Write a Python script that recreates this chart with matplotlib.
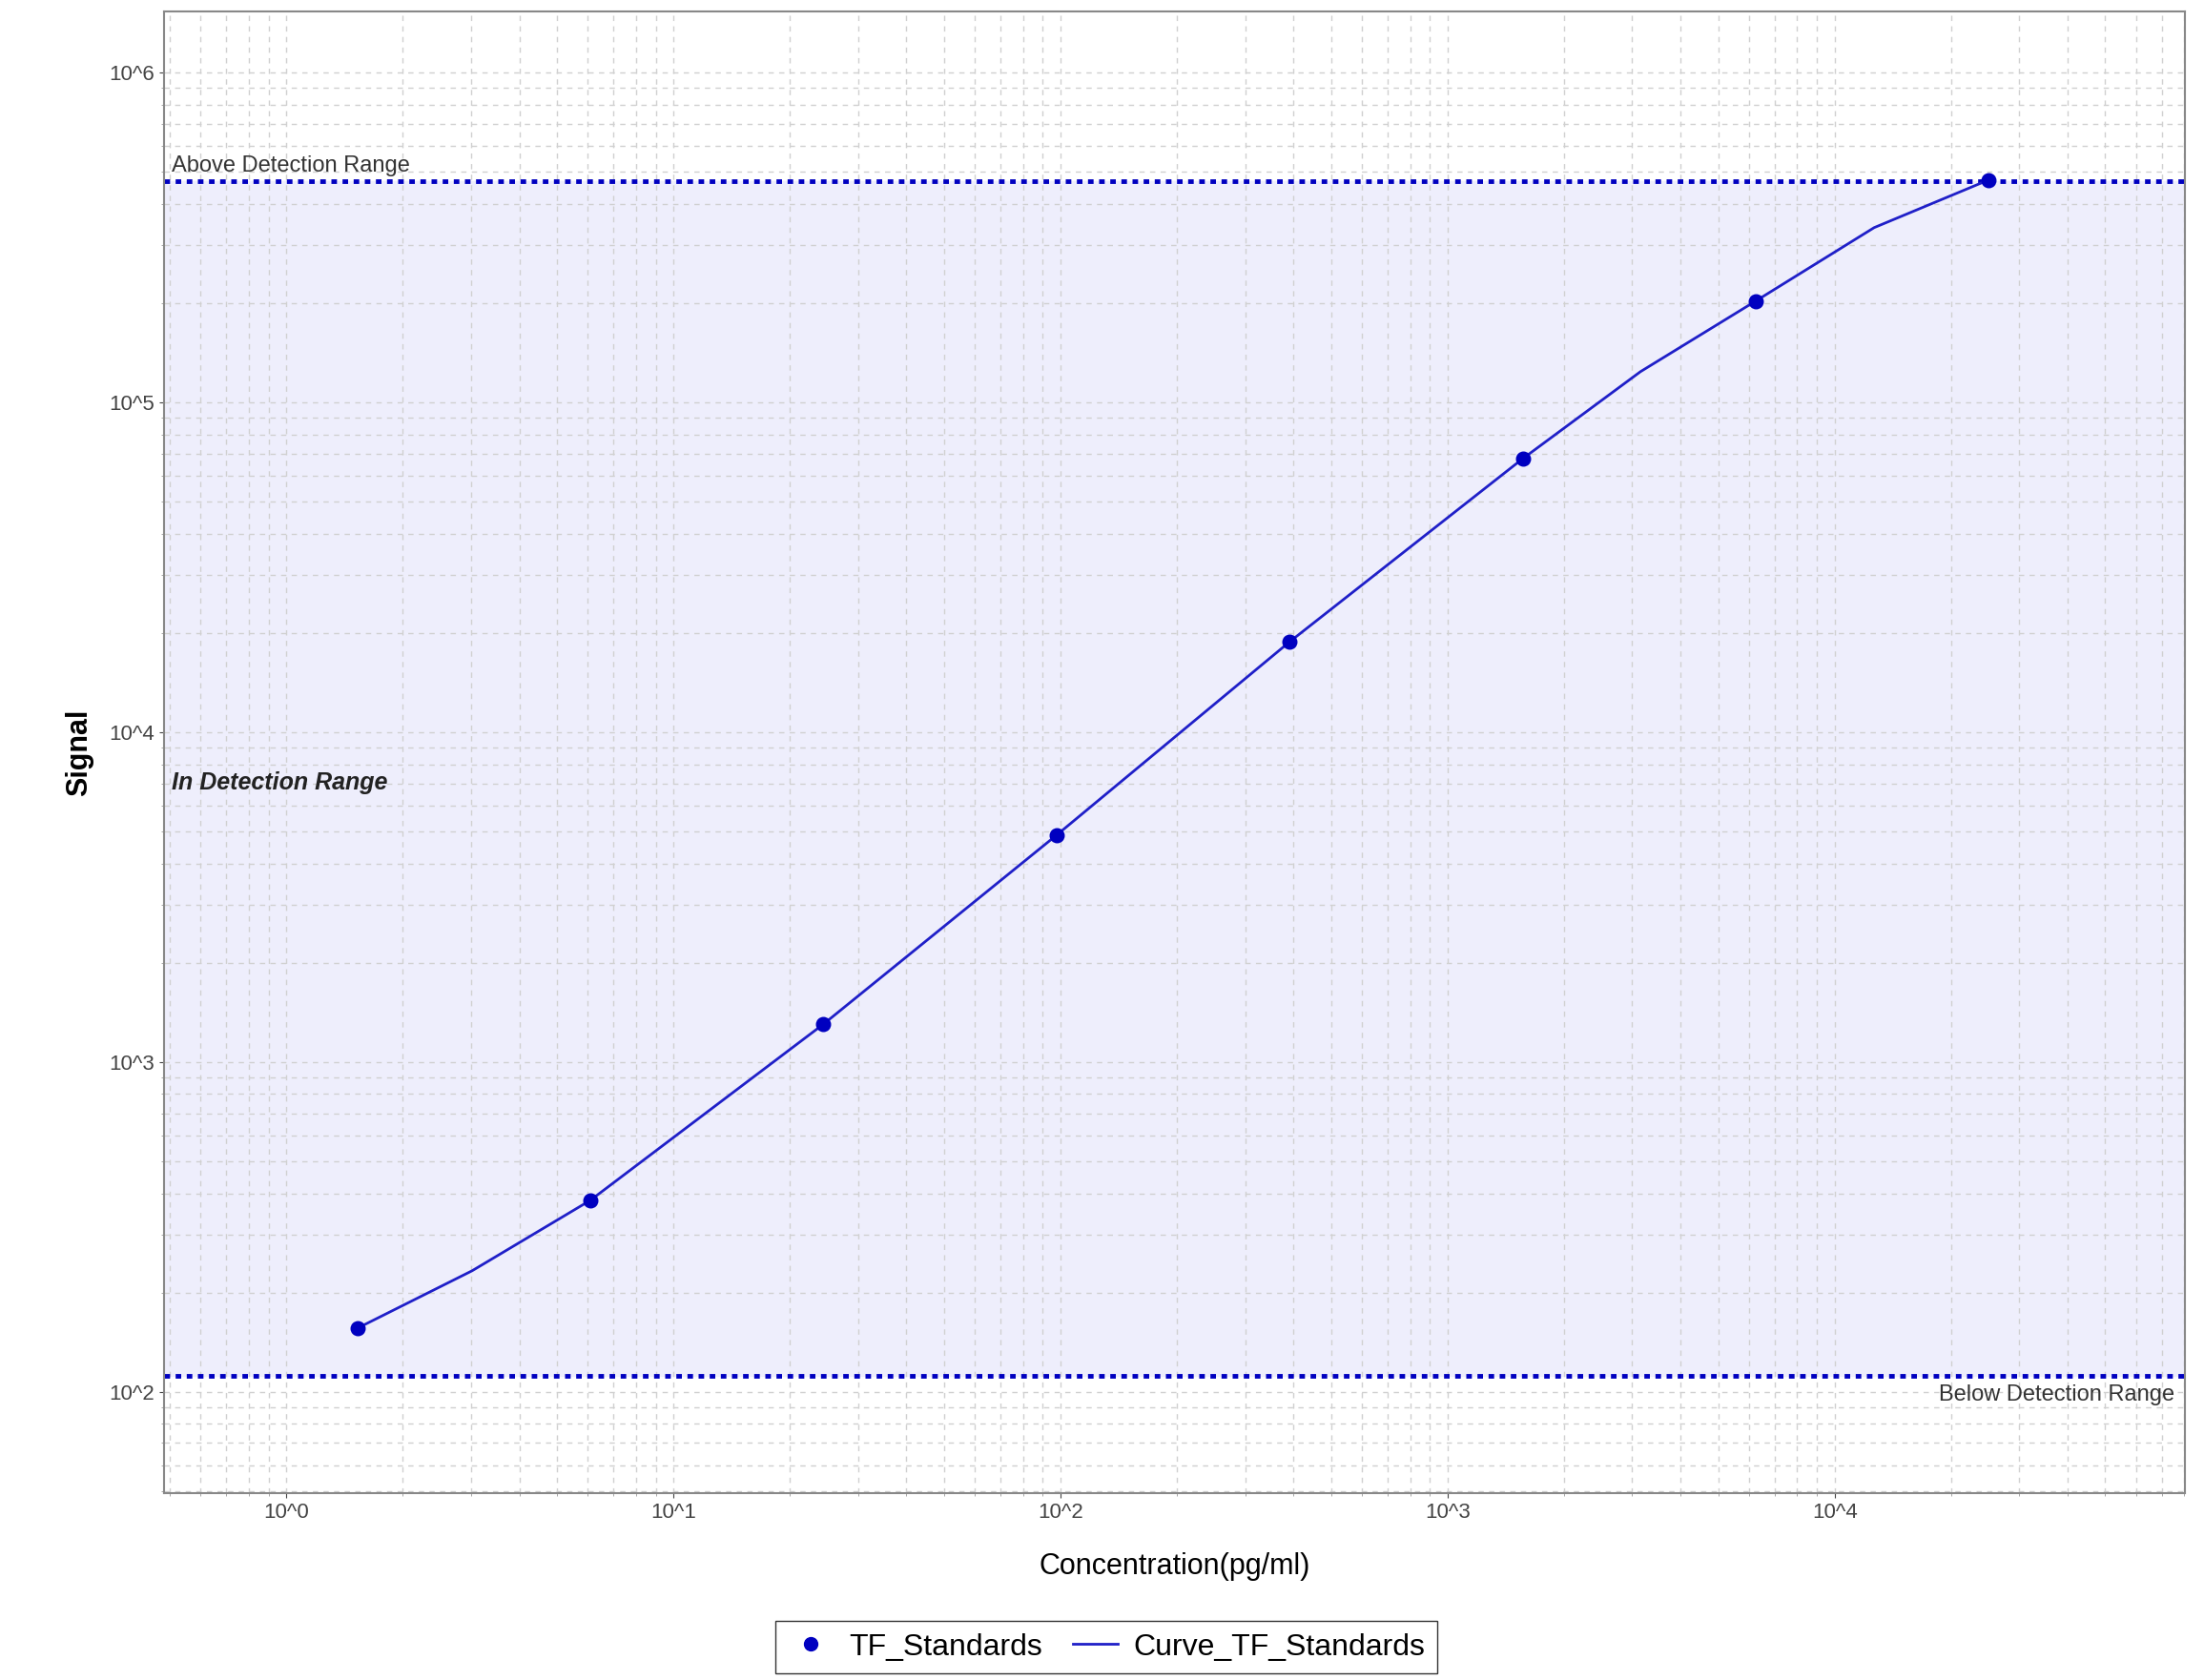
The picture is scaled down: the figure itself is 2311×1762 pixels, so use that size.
import math
import matplotlib
matplotlib.use("Agg")
import matplotlib.pyplot as plt
from matplotlib.ticker import LogLocator, FuncFormatter
from matplotlib.lines import Line2D

plt.rcParams['font.family'] = ['Liberation Sans', 'DejaVu Sans']

conc = [1.526, 6.10, 24.4, 97.66, 390.6, 1562.5, 6250, 25000]
signal = [156, 381, 1303, 4876, 18800, 67500, 203000, 473000]
# fitted curve
curve_conc = [1.526, 3.02, 6.10, 24.4, 97.66, 390.6, 1562.5, 3150, 6250, 12650, 25000]
curve_signal = [156, 233, 381, 1303, 4876, 18800, 67500, 124000, 203000, 339000, 473000]
upper_limit = 469000
lower_limit = 112

fig = plt.figure(figsize=(23.11, 17.62), dpi=100)
ax = fig.add_axes([0.0744, 0.111, 0.917, 0.882])
ax.set_xscale('log'); ax.set_yscale('log')
ax.set_xlim(0.483, 80400); ax.set_ylim(49.2, 1.53e6)
ax.axhspan(lower_limit, upper_limit, color='#EEEEFC', zorder=0)
ax.grid(True, which='both', color='#D0D0D0', linestyle=(0, (4, 4)), linewidth=1)
ax.set_axisbelow(True)
ax.axhline(upper_limit, color='#0000C0', linestyle=(0, (1.2, 1.2)), linewidth=3.5)
ax.axhline(lower_limit, color='#0000C0', linestyle=(0, (1.2, 1.2)), linewidth=3.5)
ax.plot(curve_conc, curve_signal, color='#1F1FC8', linewidth=2, zorder=3)
ax.scatter(conc, signal, color='#0000C0', s=110, zorder=4)
fmt = FuncFormatter(lambda v, p: "10^%d" % round(math.log10(v)))
ax.xaxis.set_major_formatter(fmt); ax.yaxis.set_major_formatter(fmt)
ax.xaxis.set_minor_locator(LogLocator(base=10, subs=range(2, 10), numticks=20))
ax.yaxis.set_minor_locator(LogLocator(base=10, subs=range(2, 10), numticks=20))
ax.tick_params(labelsize=16, colors='#444444')
ax.tick_params(which='minor', colors='#999999')
for s in ax.spines.values():
    s.set_color('#888888'); s.set_linewidth(1.5)
ax.set_xlabel("Concentration(pg/ml)", fontsize=22, labelpad=22)
ax.set_ylabel("Signal", fontsize=22, fontweight='bold', labelpad=12)
ax.text(0.004, 0.892, "Above Detection Range", transform=ax.transAxes, fontsize=17, color='#333333')
ax.text(0.004, 0.475, "In Detection Range", transform=ax.transAxes, fontsize=18, fontweight='bold', style='italic', color='#222222')
ax.text(0.995, 0.063, "Below Detection Range", transform=ax.transAxes, fontsize=17, color='#333333', ha='right')
handles = [Line2D([], [], marker='o', color='#0000C0', linestyle='none', markersize=10),
           Line2D([], [], color='#1F1FC8', linewidth=2)]
fig.legend(handles, ["TF_Standards", "Curve_TF_Standards"], loc='center', bbox_to_anchor=(0.502, 0.0195),
           ncol=2, fontsize=23, frameon=True, fancybox=False, edgecolor='black', handlelength=1.5,
           columnspacing=1.0, handletextpad=0.5)
fig.savefig("out.png", dpi=100)
